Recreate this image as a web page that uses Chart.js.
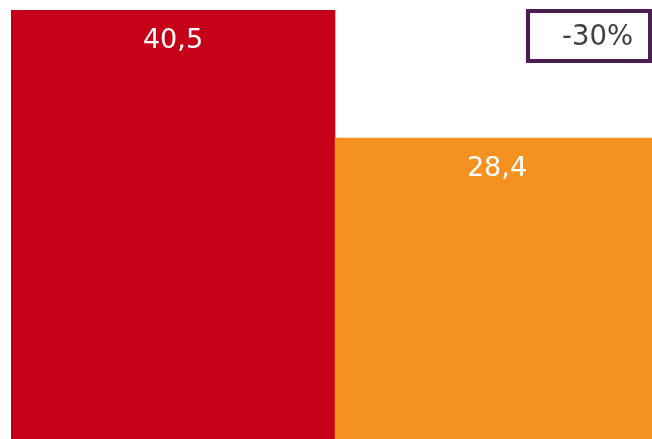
<!DOCTYPE html>
<html>
<head>
<meta charset="utf-8">
<script src="https://cdn.jsdelivr.net/npm/chart.js@4"></script>
<style>
html,body{margin:0;padding:0;background:#fff;overflow:hidden;width:652px;height:439px;}
canvas{display:block;}
</style>
</head>
<body>
<canvas id="c" width="659" height="439"></canvas>
<script>
const categories = ['A', 'B'];
const values = [40.5, 28.4];
const valueLabels = ['40,5', '28,4'];
const changeLabel = '-30%';
const barColors = ['#c70019', '#f5911e'];

const labelPlugin = {
  id: 'labels',
  afterDatasetsDraw(chart) {
    const ctx = chart.ctx;
    const meta = chart.getDatasetMeta(0);
    ctx.save();
    ctx.font = '27px "DejaVu Sans"';
    ctx.fillStyle = '#ffffff';
    ctx.textAlign = 'center';
    ctx.textBaseline = 'middle';
    meta.data.forEach((bar, i) => {
      ctx.fillText(valueLabels[i], bar.x - (i === 1 ? 0 : 0), bar.y + 31);
    });
    // change box
    ctx.lineWidth = 4;
    ctx.strokeStyle = '#4b1f52';
    ctx.strokeRect(528, 11, 122, 50);
    ctx.fillStyle = '#404040';
    ctx.font = '27.5px "DejaVu Sans"';
    ctx.textAlign = 'center';
    ctx.fillText(changeLabel, 597.5, 38);
    ctx.restore();
  }
};

new Chart(document.getElementById('c'), {
  type: 'bar',
  data: {
    labels: categories,
    datasets: [{
      data: values,
      backgroundColor: barColors,
      borderWidth: 0,
      barPercentage: 1,
      categoryPercentage: 1
    }]
  },
  options: {
    responsive: false,
    animation: false,
    layout: { padding: { left: 11, top: 10, right: 0, bottom: 0 } },
    plugins: { legend: { display: false }, tooltip: { enabled: false } },
    scales: {
      x: { display: false },
      y: { display: false, min: 0, max: 40.5 }
    }
  },
  plugins: [labelPlugin]
});
</script>
</body>
</html>
